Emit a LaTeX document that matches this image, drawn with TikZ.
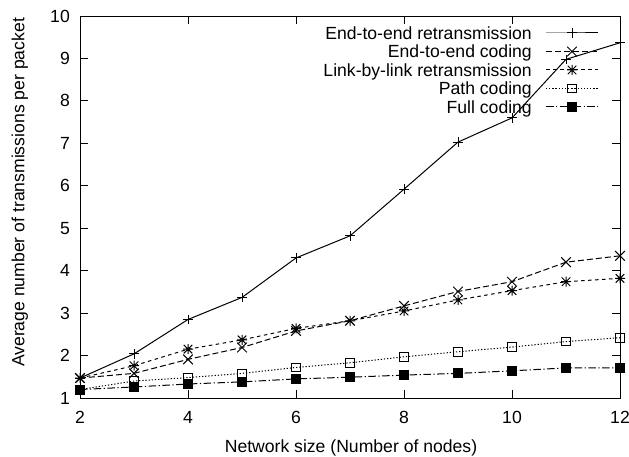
\documentclass[tikz,border=0pt]{standalone}
\usepackage{fontspec}
\setmainfont{Liberation Sans}
\usetikzlibrary{plotmarks}
% gnuplot style star: plus and cross on top of each other
\pgfdeclareplotmark{gpstar}{%
  \pgfpathmoveto{\pgfqpoint{-\pgfplotmarksize}{0pt}}\pgfpathlineto{\pgfqpoint{\pgfplotmarksize}{0pt}}%
  \pgfpathmoveto{\pgfqpoint{0pt}{-\pgfplotmarksize}}\pgfpathlineto{\pgfqpoint{0pt}{\pgfplotmarksize}}%
  \pgfpathmoveto{\pgfqpoint{-0.85\pgfplotmarksize}{-0.85\pgfplotmarksize}}\pgfpathlineto{\pgfqpoint{0.85\pgfplotmarksize}{0.85\pgfplotmarksize}}%
  \pgfpathmoveto{\pgfqpoint{-0.85\pgfplotmarksize}{0.85\pgfplotmarksize}}\pgfpathlineto{\pgfqpoint{0.85\pgfplotmarksize}{-0.85\pgfplotmarksize}}%
  \pgfusepathqstroke}

\begin{document}
\begin{tikzpicture}[x=1pt, y=1pt, font=\fontsize{17.6}{20}\selectfont,
  gpline/.style={line width=1pt, line join=miter},
  eteretx/.style={gpline, mark=+, mark size=4.8pt, mark options={solid}},
  etecode/.style={gpline, dash pattern=on 6pt off 3pt, mark=x, mark size=6.8pt, mark options={solid}},
  lblretx/.style={gpline, dash pattern=on 3.5pt off 3.5pt, mark=gpstar, mark size=5pt, mark options={solid}},
  pathcode/.style={gpline, dash pattern=on 1.25pt off 1.9pt, mark=square, mark size=4.3pt, mark options={solid}},
  fullcode/.style={gpline, dash pattern=on 7.5pt off 2.5pt on 1.25pt off 2.5pt, mark=square*, mark size=4.5pt, mark options={solid}},
  ticklab/.style={inner sep=0pt},
  keylab/.style={inner sep=0pt, anchor=base east}]
  \useasboundingbox (0,0) rectangle (629,456);

  % axes in data units: x from 2 to 12, y from 1 to 10
  \begin{scope}[xshift=-28pt, yshift=15.56pt, x=54pt, y=42.44pt]
    \draw[line width=0.9pt] (2,1) rectangle (12,10);
    \draw[line width=0.9pt] (4,1) -- ++(0pt,8pt) (6,1) -- ++(0pt,8pt) (8,1) -- ++(0pt,8pt) (10,1) -- ++(0pt,8pt)
                            (4,10) -- ++(0pt,-8pt) (6,10) -- ++(0pt,-8pt) (8,10) -- ++(0pt,-8pt) (10,10) -- ++(0pt,-8pt);
    \draw[line width=0.9pt] (2,2) -- ++(8pt,0pt) (2,3) -- ++(8pt,0pt) (2,4) -- ++(8pt,0pt) (2,5) -- ++(8pt,0pt)
                            (2,6) -- ++(8pt,0pt) (2,7) -- ++(8pt,0pt) (2,8) -- ++(8pt,0pt) (2,9) -- ++(8pt,0pt);
    \draw[line width=0.9pt] (12,2) -- ++(-8pt,0pt) (12,3) -- ++(-8pt,0pt) (12,4) -- ++(-8pt,0pt) (12,5) -- ++(-8pt,0pt)
                            (12,6) -- ++(-8pt,0pt) (12,7) -- ++(-8pt,0pt) (12,8) -- ++(-8pt,0pt) (12,9) -- ++(-8pt,0pt);

    \node[ticklab, yshift=-19pt] (xl2) at (2,1) {2};
    \node[ticklab, yshift=-19pt] (xl4) at (4,1) {4};
    \node[ticklab, yshift=-19pt] (xl6) at (6,1) {6};
    \node[ticklab, yshift=-19pt] (xl8) at (8,1) {8};
    \node[ticklab, yshift=-19pt] (xl10) at (10,1) {10};
    \node[ticklab, yshift=-19pt] (xl12) at (12,1) {12};

    \node[ticklab, anchor=east, xshift=-10pt] (yl1) at (2,1) {1};
    \node[ticklab, anchor=east, xshift=-10pt] (yl2) at (2,2) {2};
    \node[ticklab, anchor=east, xshift=-10pt] (yl3) at (2,3) {3};
    \node[ticklab, anchor=east, xshift=-10pt] (yl4) at (2,4) {4};
    \node[ticklab, anchor=east, xshift=-10pt] (yl5) at (2,5) {5};
    \node[ticklab, anchor=east, xshift=-10pt] (yl6) at (2,6) {6};
    \node[ticklab, anchor=east, xshift=-10pt] (yl7) at (2,7) {7};
    \node[ticklab, anchor=east, xshift=-10pt] (yl8) at (2,8) {8};
    \node[ticklab, anchor=east, xshift=-10pt] (yl9) at (2,9) {9};
    \node[ticklab, anchor=east, xshift=-10pt] (yl10) at (2,10) {10};

    % measured curves
    \draw[fullcode] plot coordinates {(2,1.2) (3,1.26) (4,1.33) (5,1.38) (6,1.45) (7,1.49) (8,1.54) (9,1.58) (10,1.64) (11,1.71) (12,1.71)};
    \draw[pathcode] plot coordinates {(2,1.2) (3,1.4) (4,1.48) (5,1.58) (6,1.72) (7,1.83) (8,1.97) (9,2.09) (10,2.2) (11,2.33) (12,2.42)};
    \draw[lblretx] plot coordinates {(2,1.47) (3,1.76) (4,2.15) (5,2.37) (6,2.64) (7,2.82) (8,3.05) (9,3.31) (10,3.53) (11,3.74) (12,3.82)};
    \draw[etecode] plot coordinates {(2,1.47) (3,1.58) (4,1.91) (5,2.19) (6,2.58) (7,2.82) (8,3.17) (9,3.51) (10,3.74) (11,4.2) (12,4.35)};
    \draw[eteretx] plot coordinates {(2,1.47) (3,2.04) (4,2.85) (5,3.37) (6,4.3) (7,4.82) (8,5.92) (9,7.03) (10,7.6) (11,8.98) (12,9.37)};
  \end{scope}

  % axis titles
  \node[inner sep=0pt, anchor=base] (xtitle) at (351,3.5) {Network size (Number of nodes)};
  \node[inner sep=0pt, anchor=base, rotate=90] (ytitle) at (24.5,263.5) {Average number of transmissions per packet};

  % key
  \node[keylab] (key1) at (532,416.7) {End-to-end retransmission};
  \node[keylab] (key2) at (532,398.2) {End-to-end coding};
  \node[keylab] (key3) at (532,379.7) {Link-by-link retransmission};
  \node[keylab] (key4) at (532,361.2) {Path coding};
  \node[keylab] (key5) at (532,342.7) {Full coding};
  \draw[eteretx, mark indices={2}] plot coordinates {(546,423) (572,423) (598,423)};
  \draw[etecode, mark indices={2}] plot coordinates {(546,404.5) (572,404.5) (598,404.5)};
  \draw[lblretx, mark indices={2}] plot coordinates {(546,386) (572,386) (598,386)};
  \draw[pathcode, mark indices={2}] plot coordinates {(546,367.5) (572,367.5) (598,367.5)};
  \draw[fullcode, mark indices={2}] plot coordinates {(546,349) (572,349) (598,349)};
\end{tikzpicture}
\end{document}
